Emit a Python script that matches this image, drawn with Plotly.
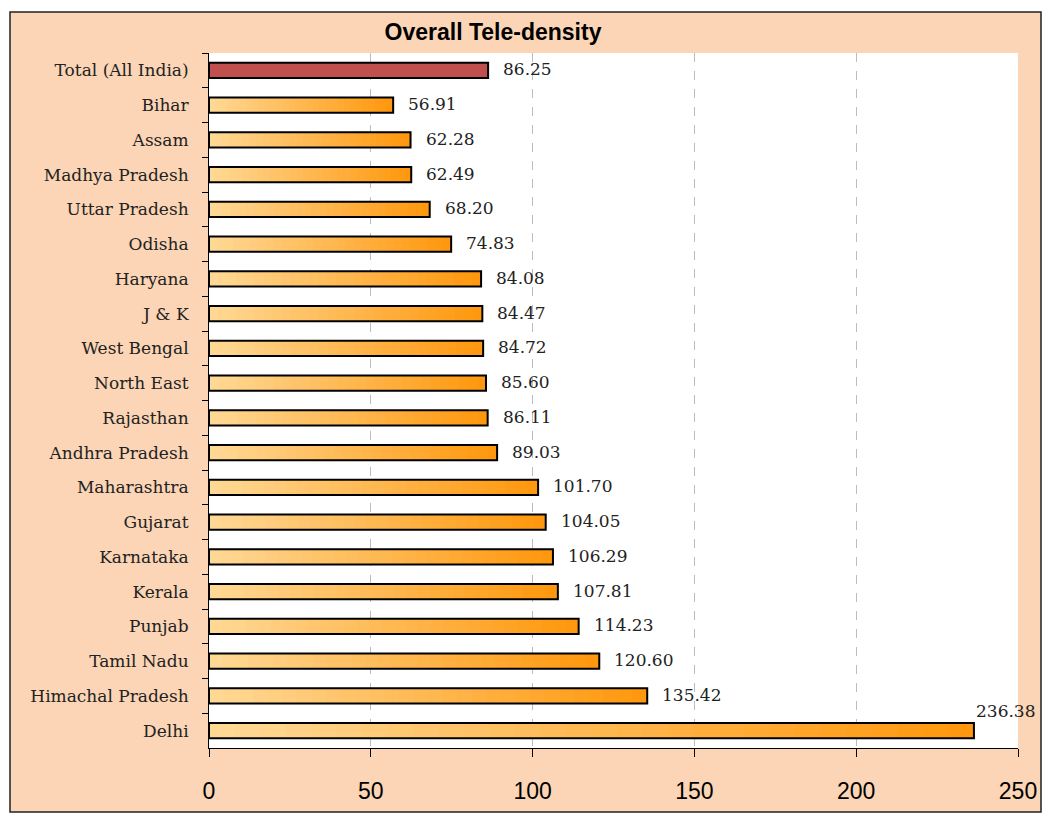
import plotly.graph_objects as go

categories = ["Total (All India)", "Bihar", "Assam", "Madhya Pradesh", "Uttar Pradesh",
              "Odisha", "Haryana", "J & K", "West Bengal", "North East", "Rajasthan",
              "Andhra Pradesh", "Maharashtra", "Gujarat", "Karnataka", "Kerala",
              "Punjab", "Tamil Nadu", "Himachal Pradesh", "Delhi"]
values = [86.25, 56.91, 62.28, 62.49, 68.20, 74.83, 84.08, 84.47, 84.72, 85.60,
          86.11, 89.03, 101.70, 104.05, 106.29, 107.81, 114.23, 120.60, 135.42, 236.38]
x_ticks = [0, 50, 100, 150, 200, 250]
title_text = "Overall Tele-density"

total_color = "#C0504D"
grad_start = (255, 216, 148)
grad_end = (255, 152, 14)
N_SEG = 30
BAR_W = 0.44

fig = go.Figure()

is_total = [c.startswith("Total") for c in categories]

# gradient bars: each segment starts further right and runs to the bar's end
for i in range(N_SEG):
    t = i / (N_SEG - 1)
    col = "rgb({},{},{})".format(*[round(a + (b - a) * t) for a, b in zip(grad_start, grad_end)])
    seg_x, seg_base, seg_col = [], [], []
    for v, tot in zip(values, is_total):
        seg_base.append(v * i / N_SEG)
        seg_x.append(v * (1 - i / N_SEG))
        seg_col.append(total_color if tot else col)
    fig.add_trace(go.Bar(y=categories, x=seg_x, base=seg_base, orientation="h",
                         marker=dict(color=seg_col, line=dict(width=0)),
                         width=BAR_W, hoverinfo="skip", showlegend=False))

# outline
fig.add_trace(go.Bar(y=categories, x=values, orientation="h",
                     marker=dict(color="rgba(0,0,0,0)", line=dict(color="black", width=2)),
                     width=BAR_W, showlegend=False))

for c, v in zip(categories, values):
    big = v > 200
    fig.add_annotation(x=v, y=c, text="{:.2f}".format(v), showarrow=False,
                       xanchor="left", yanchor="middle",
                       xshift=0 if big else 13, yshift=20 if big else 1,
                       font=dict(family="DejaVu Serif", size=17, color="#222222"))

# background panel with border and white plot area
fig.add_shape(type="rect", xref="paper", yref="paper",
              x0=(10 - 209) / 809, x1=(1041 - 209) / 809,
              y0=(748 - 812) / 695, y1=(748 - 12) / 695,
              fillcolor="#FBD5B5", line=dict(color="#222222", width=1.5), layer="below")
fig.add_shape(type="rect", xref="paper", yref="paper", x0=0, x1=1, y0=0, y1=1,
              fillcolor="white", line=dict(width=0), layer="below")

fig.update_layout(
    width=1044, height=814,
    margin=dict(l=209, r=26, t=53, b=66, autoexpand=False),
    paper_bgcolor="white", plot_bgcolor="white",
    barmode="overlay",
    title=dict(text="<b>" + title_text + "</b>", x=493 / 1044, xanchor="center",
               xref="container", y=1 - 32 / 814, yanchor="middle",
               font=dict(family="Liberation Sans", size=23, color="black")),
    showlegend=False,
)
fig.update_xaxes(range=[0, 250], tickvals=x_ticks, showgrid=True, gridcolor="#BDBDBD",
                 griddash="dash", gridwidth=1, zeroline=False, automargin=False,
                 showline=True, linecolor="black", linewidth=1,
                 ticks="outside", ticklen=8, tickcolor="black",
                 ticklabelstandoff=14,
                 tickfont=dict(family="Liberation Sans", size=23, color="black"))
fig.update_yaxes(range=[len(categories) - 0.5, -0.5], type="category", showgrid=False,
                 automargin=False,
                 showline=True, linecolor="black", linewidth=1,
                 ticks="outside", tickson="boundaries", ticklen=6, tickcolor="black",
                 ticklabelstandoff=16,
                 tickfont=dict(family="DejaVu Serif", size=17, color="#222222"))

fig.write_html(
    "out.html",
    config={"displayModeBar": False, "responsive": False},
    post_script="document.body.style.margin='0';document.body.style.padding='0';"
                "document.body.style.overflow='hidden';"
                "document.documentElement.style.overflow='hidden';",
)
